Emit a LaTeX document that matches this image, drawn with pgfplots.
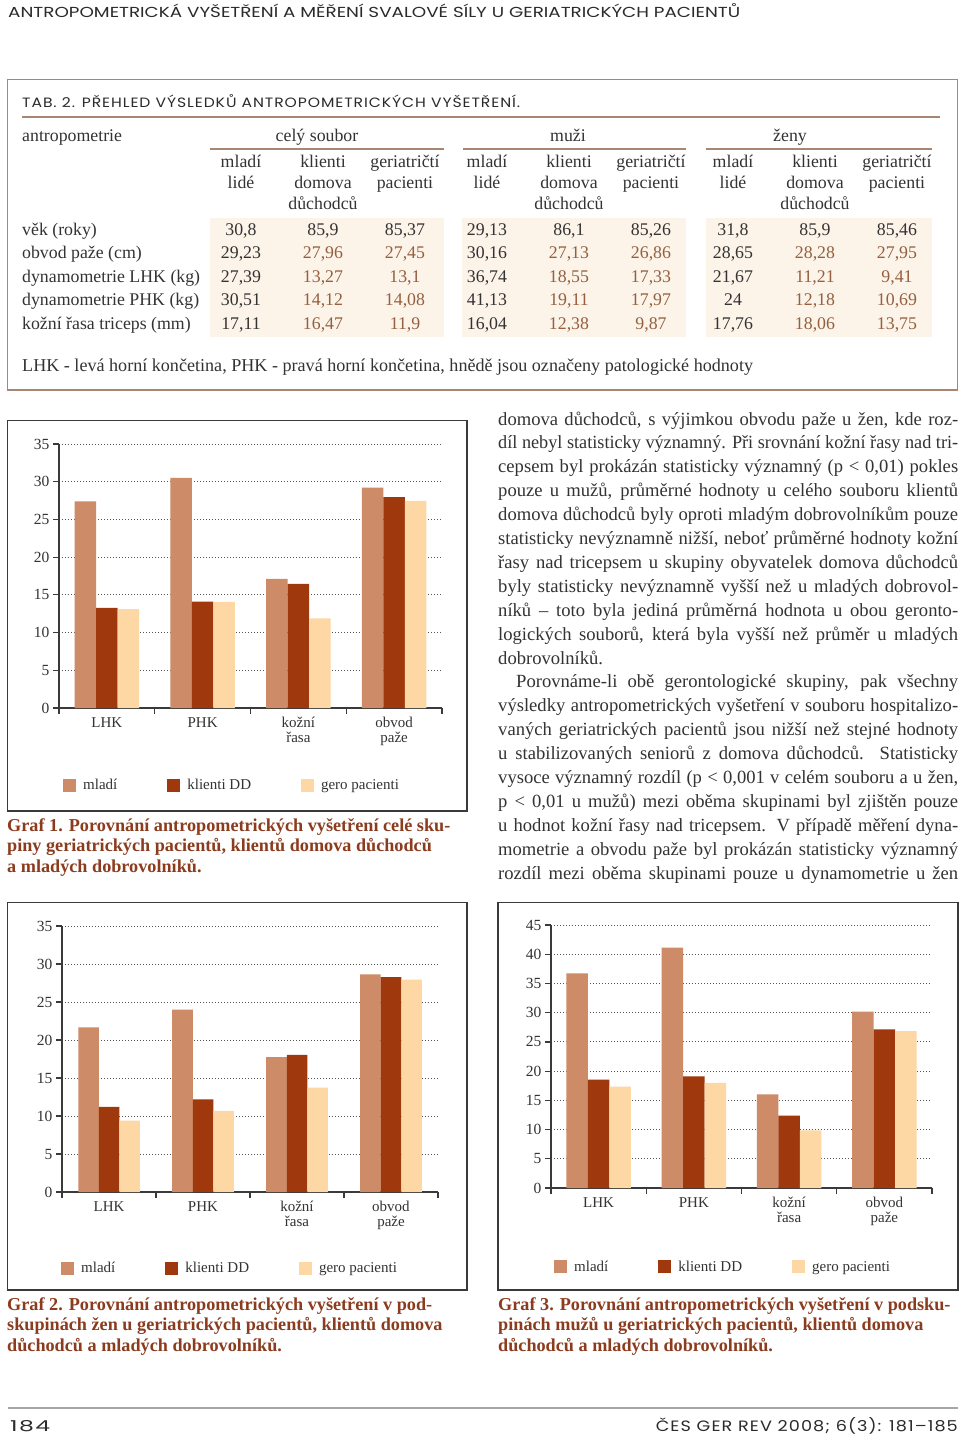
\documentclass[border=0pt]{standalone}
\usepackage{fontspec}
\setmainfont{Liberation Serif}
\newfontfamily\hdr{Poppins}
\newfontfamily\hdrsp[LetterSpace=6]{Poppins}
\usepackage{graphicx}
\usepackage{pgfplots}
\pgfplotsset{compat=1.18}
\definecolor{c1}{HTML}{CD8B68}
\definecolor{c2}{HTML}{A0380E}
\definecolor{c3}{HTML}{FDD7A4}
\definecolor{capc}{HTML}{8C3C1E}
\definecolor{tabframe}{HTML}{A88670}
\definecolor{tabfill}{HTML}{FCF3E9}
\definecolor{bval}{HTML}{94603F}
\definecolor{txt}{HTML}{333333}
\definecolor{gridc}{HTML}{555555}
\definecolor{axc}{HTML}{3A3A3A}
\definecolor{hdrc}{HTML}{2B2B2B}
\newcommand\bodyf{\fontsize{18.6}{20}\selectfont\color{txt}}
\newcommand\tabf{\fontsize{17.8}{20}\selectfont}
\newcommand\capf{\fontsize{18.2}{20}\selectfont\bfseries\color{capc}}
\newsavebox\linebox
\newcommand\fitline[1]{\sbox\linebox{#1}\ifdim\wd\linebox>460pt\resizebox{460pt}{\height}{\usebox\linebox}\else\makebox[460pt][s]{#1}\fi}
\newcommand\BL[2]{\node[anchor=base west,inner sep=0,font=\bodyf] at (498,#1) {\fitline{#2}};}
\newcommand\BLL[2]{\node[anchor=base west,inner sep=0,font=\bodyf] at (498,#1) {\makebox[460pt][l]{#2}};}
\newcommand\cell[4]{\node[anchor=base,inner sep=0,font=\tabf,text=#4] at (#1,#2) {#3};}
\newcommand\lab[3]{\node[anchor=base west,inner sep=0,font=\tabf,text=txt] at (#1,#2) {#3};}
\newcommand\capn[3]{\node[anchor=base west,inner sep=0,font=\capf] at (#1,#2) {#3};}
\pgfplotsset{
 gbar/.style={
  scale only axis, anchor=south west,
  axis x line*=bottom, axis y line*=left,
  axis line style={draw=axc, line width=1.3pt},
  xmin=0, xmax=4, ymin=0,
  xtick={0,1,2,3,4},
  x tick label as interval,
  xticklabels={LHK,PHK,{kožní\\řasa},{obvod\\paže}},
  xticklabel style={align=center, font=\fontsize{15}{15}\selectfont, text=txt},
  ytick distance=5,
  yticklabel style={font=\fontsize{15.5}{15.5}\selectfont, text=txt},
  /pgf/number format/assume math mode=true,
  tick align=outside, major tick length=6pt,
  tick style={draw=axc, line width=1.2pt},
  ymajorgrids, major grid style={draw=gridc, line width=1pt, dash pattern=on 1pt off 2pt},
  ybar=0pt, bar width=21.5pt,
  legend columns=3,
  legend style={draw=none, fill=none, anchor=west, inner sep=0pt,
    font=\fontsize{15}{15}\selectfont, text=txt,
    /tikz/every odd column/.append style={column sep=5pt},
    /tikz/every even column/.append style={column sep=48pt}},
  legend cell align=left,
 },
 limg/.style={legend image code/.code={\fill[##1] (0pt,-6.5pt) rectangle (13pt,6.5pt);}},
}
\begin{document}
\begin{tikzpicture}[x=1pt,y=-1pt]
\path[use as bounding box, fill=white] (0,0) rectangle (960,1435);
% header
\node[anchor=base west,inner sep=0,text=hdrc] at (8,17.5) {\resizebox{732pt}{\height}{\fontsize{14.5}{14.5}\selectfont\hdr ANTROPOMETRICKÁ VYŠETŘENÍ A MĚŘENÍ SVALOVÉ SÍLY U GERIATRICKÝCH PACIENTŮ}};
% table frame
\draw[tabframe, line width=1.5pt] (7.5,79.5) rectangle (957.5,390);
\node[anchor=base west,inner sep=0,text=hdrc] at (22,107.5) {\resizebox{498pt}{\height}{\fontsize{13.5}{13.5}\selectfont\hdrsp TAB. 2. PŘEHLED VÝSLEDKŮ ANTROPOMETRICKÝCH VYŠETŘENÍ.}};
\draw[tabframe, line width=2pt] (22,116.5) -- (940,116.5);
% table shading
\fill[tabfill] (210,218) rectangle (444,337);
\fill[tabfill] (462,218) rectangle (686,337);
\fill[tabfill] (706,218) rectangle (932,337);
% group headers
\lab{22}{141}{antropometrie}
\cell{317}{141}{celý soubor}{txt}
\cell{568}{141}{muži}{txt}
\cell{790}{141}{ženy}{txt}
\draw[tabframe, line width=1.5pt] (210,149) -- (444,149);
\draw[tabframe, line width=1.5pt] (463,149) -- (686,149);
\draw[tabframe, line width=1.5pt] (706,149) -- (932,149);
% sub headers
\foreach \cx in {0,246,492}{
 \cell{241+\cx}{167}{mladí}{txt}
 \cell{241+\cx}{188}{lidé}{txt}
 \cell{323+\cx}{167}{klienti}{txt}
 \cell{323+\cx}{188}{domova}{txt}
 \cell{323+\cx}{209}{důchodců}{txt}
 \cell{405+\cx}{167}{geriatričtí}{txt}
 \cell{405+\cx}{188}{pacienti}{txt}
}
% row labels
\lab{22}{235}{věk (roky)}
\lab{22}{258.5}{obvod paže (cm)}
\lab{22}{282}{dynamometrie LHK (kg)}
\lab{22}{305.5}{dynamometrie PHK (kg)}
\lab{22}{329}{kožní řasa triceps (mm)}
% row 1
\cell{241}{235}{30,8}{txt}\cell{323}{235}{85,9}{txt}\cell{405}{235}{85,37}{txt}
\cell{487}{235}{29,13}{txt}\cell{569}{235}{86,1}{txt}\cell{651}{235}{85,26}{txt}
\cell{733}{235}{31,8}{txt}\cell{815}{235}{85,9}{txt}\cell{897}{235}{85,46}{txt}
% row 2
\cell{241}{258.5}{29,23}{txt}\cell{323}{258.5}{27,96}{bval}\cell{405}{258.5}{27,45}{bval}
\cell{487}{258.5}{30,16}{txt}\cell{569}{258.5}{27,13}{bval}\cell{651}{258.5}{26,86}{bval}
\cell{733}{258.5}{28,65}{txt}\cell{815}{258.5}{28,28}{bval}\cell{897}{258.5}{27,95}{bval}
% row 3
\cell{241}{282}{27,39}{txt}\cell{323}{282}{13,27}{bval}\cell{405}{282}{13,1}{bval}
\cell{487}{282}{36,74}{txt}\cell{569}{282}{18,55}{bval}\cell{651}{282}{17,33}{bval}
\cell{733}{282}{21,67}{txt}\cell{815}{282}{11,21}{bval}\cell{897}{282}{9,41}{bval}
% row 4
\cell{241}{305.5}{30,51}{txt}\cell{323}{305.5}{14,12}{bval}\cell{405}{305.5}{14,08}{bval}
\cell{487}{305.5}{41,13}{txt}\cell{569}{305.5}{19,11}{bval}\cell{651}{305.5}{17,97}{bval}
\cell{733}{305.5}{24}{txt}\cell{815}{305.5}{12,18}{bval}\cell{897}{305.5}{10,69}{bval}
% row 5
\cell{241}{329}{17,11}{txt}\cell{323}{329}{16,47}{bval}\cell{405}{329}{11,9}{bval}
\cell{487}{329}{16,04}{txt}\cell{569}{329}{12,38}{bval}\cell{651}{329}{9,87}{bval}
\cell{733}{329}{17,76}{txt}\cell{815}{329}{18,06}{bval}\cell{897}{329}{13,75}{bval}
% footnote
\node[anchor=base west,inner sep=0,font=\fontsize{18.1}{20}\selectfont,text=txt] at (22,371) {LHK - levá horní končetina, PHK - pravá horní končetina, hnědě jsou označeny patologické hodnoty};
% chart frames
\draw[axc, line width=1.3pt] (7.5,420.5) rectangle (467,811);
\draw[axc, line width=1.3pt] (7.5,902.5) rectangle (467,1290);
\draw[axc, line width=1.3pt] (498,902.5) rectangle (958,1290);
% chart 1
\begin{axis}[gbar, at={(59pt,-708pt)}, width=383pt, height=264pt, ymax=35,
  legend style={at={(0.0104,-0.2917)}}]
\addplot[fill=c1, draw=none, limg] coordinates {(0.5,27.39) (1.5,30.51) (2.5,17.11) (3.5,29.23)};
\addplot[fill=c2, draw=none, limg] coordinates {(0.5,13.27) (1.5,14.12) (2.5,16.47) (3.5,27.96)};
\addplot[fill=c3, draw=none, limg] coordinates {(0.5,13.1) (1.5,14.08) (2.5,11.9) (3.5,27.45)};
\addlegendentry{mladí}\addlegendentry{klienti DD}\addlegendentry{gero pacienti}
\end{axis}
% chart 2 (zeny)
\begin{axis}[gbar, at={(62pt,-1192pt)}, width=376pt, height=266pt, ymax=35, bar width=20.5pt,
  legend style={at={(-0.0027,-0.2857)}}]
\addplot[fill=c1, draw=none, limg] coordinates {(0.5,21.67) (1.5,24) (2.5,17.76) (3.5,28.65)};
\addplot[fill=c2, draw=none, limg] coordinates {(0.5,11.21) (1.5,12.18) (2.5,18.06) (3.5,28.28)};
\addplot[fill=c3, draw=none, limg] coordinates {(0.5,9.41) (1.5,10.69) (2.5,13.75) (3.5,27.95)};
\addlegendentry{mladí}\addlegendentry{klienti DD}\addlegendentry{gero pacienti}
\end{axis}
% chart 3 (muzi)
\begin{axis}[gbar, at={(551pt,-1188pt)}, width=381pt, height=263pt, ymax=45,
  legend style={at={(0.0079,-0.300)}}]
\addplot[fill=c1, draw=none, limg] coordinates {(0.5,36.74) (1.5,41.13) (2.5,16.04) (3.5,30.16)};
\addplot[fill=c2, draw=none, limg] coordinates {(0.5,18.55) (1.5,19.11) (2.5,12.38) (3.5,27.13)};
\addplot[fill=c3, draw=none, limg] coordinates {(0.5,17.33) (1.5,17.97) (2.5,9.87) (3.5,26.86)};
\addlegendentry{mladí}\addlegendentry{klienti DD}\addlegendentry{gero pacienti}
\end{axis}
% captions
\capn{7}{831}{Graf 1. Porovnání antropometrických vyšetření celé sku-}
\capn{7}{851}{piny geriatrických pacientů, klientů domova důchodců}
\capn{7}{872}{a mladých dobrovolníků.}
\capn{7}{1310}{Graf 2. Porovnání antropometrických vyšetření v pod-}
\capn{7}{1330}{skupinách žen u geriatrických pacientů, klientů domova}
\capn{7}{1351}{důchodců a mladých dobrovolníků.}
\capn{498}{1310}{Graf 3. Porovnání antropometrických vyšetření v podsku-}
\capn{498}{1330}{pinách mužů u geriatrických pacientů, klientů domova}
\capn{498}{1351}{důchodců a mladých dobrovolníků.}
% body text
\BL{425}{domova důchodců, s výjimkou obvodu paže u žen, kde roz-}
\BL{448.9}{díl nebyl statisticky významný. Při srovnání kožní řasy nad tri-}
\BL{472.8}{cepsem byl prokázán statisticky významný (p < 0,01) pokles}
\BL{496.7}{pouze u mužů, průměrné hodnoty u celého souboru klientů}
\BL{520.6}{domova důchodců byly oproti mladým dobrovolníkům pouze}
\BL{544.5}{statisticky nevýznamně nižší, neboť průměrné hodnoty kožní}
\BL{568.4}{řasy nad tricepsem u skupiny obyvatelek domova důchodců}
\BL{592.3}{byly statisticky nevýznamně vyšší než u mladých dobrovol-}
\BL{616.2}{níků – toto byla jediná průměrná hodnota u obou geronto-}
\BL{640.1}{logických souborů, která byla vyšší než průměr u mladých}
\BLL{664}{dobrovolníků.}
\BL{687.9}{\hspace*{18pt}Porovnáme-li obě gerontologické skupiny, pak všechny}
\BL{711.8}{výsledky antropometrických vyšetření v souboru hospitalizo-}
\BL{735.7}{vaných geriatrických pacientů jsou nižší než stejné hodnoty}
\BL{759.6}{u stabilizovaných seniorů z domova důchodců. Statisticky}
\BL{783.5}{vysoce významný rozdíl (p < 0,001 v celém souboru a u žen,}
\BL{807.4}{p < 0,01 u mužů) mezi oběma skupinami byl zjištěn pouze}
\BL{831.3}{u hodnot kožní řasy nad tricepsem. V případě měření dyna-}
\BL{855.2}{mometrie a obvodu paže byl prokázán statisticky významný}
\BL{879.1}{rozdíl mezi oběma skupinami pouze u dynamometrie u žen}
% footer
\draw[gray!70, line width=1.5pt] (8,1408) -- (958,1408);
\node[anchor=base west,inner sep=0,text=hdrc] at (10,1431) {\resizebox{40pt}{\height}{\fontsize{15}{15}\selectfont\hdrsp 184}};
\node[anchor=base east,inner sep=0,text=hdrc] at (958,1431) {\resizebox{302pt}{\height}{\fontsize{15}{15}\selectfont\hdrsp ČES GER REV 2008; 6(3): 181–185}};
\end{tikzpicture}
\end{document}
